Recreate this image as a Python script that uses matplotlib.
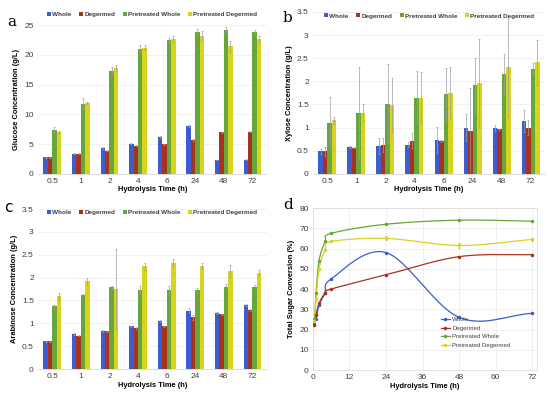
import numpy as np
import matplotlib
matplotlib.use('Agg')
import matplotlib.pyplot as plt

plt.rcParams['font.family'] = ['Liberation Sans', 'DejaVu Sans']

# data
times = ['0.5', '1', '2', '4', '6', '24', '48', '72']
hours = [0.5, 1, 2, 4, 6, 24, 48, 72]
series = ['Whole', 'Degermed', 'Pretreated Whole', 'Pretreated Degermed']

glu_whole = [2.8, 3.4, 4.3, 5.1, 6.2, 8.0, 2.3, 2.4]
glu_degermed = [2.8, 3.4, 3.9, 4.7, 5.0, 5.7, 7.0, 7.1]
glu_pwhole = [7.4, 11.8, 17.3, 21.0, 22.4, 23.8, 24.2, 23.9]
glu_pdegermed = [7.0, 11.9, 17.8, 21.2, 22.6, 23.2, 21.4, 22.6]
glu_err_whole = [0.05, 0.05, 0.2, 0.1, 0.1, 0.2, 0.05, 0.1]
glu_err_degermed = [0.05, 0.05, 0.1, 0.1, 0.1, 0.1, 0.1, 0.1]
glu_err_pwhole = [0.5, 0.9, 0.7, 0.6, 0.5, 0.6, 0.5, 0.2]
glu_err_pdegermed = [0.2, 0.2, 0.5, 0.4, 0.6, 0.8, 0.9, 0.5]

xyl_whole = [0.49, 0.58, 0.60, 0.63, 0.74, 1.00, 0.99, 1.14]
xyl_degermed = [0.49, 0.57, 0.63, 0.72, 0.71, 0.92, 0.96, 1.00]
xyl_pwhole = [1.11, 1.31, 1.52, 1.65, 1.72, 1.91, 2.16, 2.26]
xyl_pdegermed = [1.16, 1.32, 1.49, 1.64, 1.75, 1.96, 2.32, 2.41]
xyl_err_whole = [0.05, 0.02, 0.18, 0.05, 0.28, 0.30, 0.07, 0.23]
xyl_err_degermed = [0.10, 0.02, 0.15, 0.16, 0.02, 0.93, 0.02, 0.17]
xyl_err_pwhole = [0.55, 1.00, 0.85, 0.58, 0.57, 0.60, 0.43, 0.13]
xyl_err_pdegermed = [0.08, 0.18, 0.58, 0.57, 0.57, 0.96, 1.10, 0.48]

ara_whole = [0.61, 0.77, 0.84, 0.93, 1.05, 1.28, 1.23, 1.40]
ara_degermed = [0.61, 0.73, 0.83, 0.90, 0.93, 1.13, 1.20, 1.29]
ara_pwhole = [1.38, 1.63, 1.79, 1.73, 1.72, 1.72, 1.80, 1.80]
ara_pdegermed = [1.59, 1.92, 1.75, 2.25, 2.33, 2.26, 2.15, 2.11]
ara_err_whole = [0.01, 0.02, 0.02, 0.02, 0.03, 0.06, 0.02, 0.03]
ara_err_degermed = [0.01, 0.01, 0.01, 0.02, 0.02, 0.05, 0.01, 0.02]
ara_err_pwhole = [0.03, 0.02, 0.03, 0.08, 0.10, 0.05, 0.05, 0.03]
ara_err_pdegermed = [0.08, 0.08, 0.87, 0.08, 0.08, 0.07, 0.13, 0.06]

tsc_whole = [22.5, 25.0, 32.0, 38.0, 45.0, 58.0, 26.0, 28.0]
tsc_degermed = [22.0, 27.0, 33.0, 38.0, 40.0, 47.0, 56.0, 57.0]
tsc_pwhole = [25.0, 38.0, 54.0, 63.5, 67.5, 72.0, 74.0, 73.5]
tsc_pdegermed = [24.0, 35.0, 50.0, 59.5, 63.5, 65.0, 61.5, 64.5]
tsc_err_pdegermed = [0.5, 0.5, 0.5, 0.5, 0.5, 1.0, 1.0, 0.8]

colors = ['#3c5ccf', '#a8321c', '#67a63a', '#d6d41e']

fig = plt.figure(figsize=(5.5, 3.97), dpi=100)


def bar_panel(rect, vals, errs, ymax, ystep, ylabel, letter, letter_xy, letter_font, legend_y):
    ax = fig.add_axes(rect)
    x = np.arange(len(times))
    w = 0.155
    for i in range(4):
        ax.bar(x + (i - 1.5) * w, vals[i], w, color=colors[i], zorder=2,
               yerr=errs[i], error_kw=dict(ecolor='#a0a0a0', elinewidth=0.5, capsize=1, capthick=0.5))
    ax.set_ylim(0, ymax)
    ax.set_yticks(np.arange(0, ymax + ystep / 2, ystep))
    ax.set_yticklabels(['%g' % v for v in np.arange(0, ymax + ystep / 2, ystep)])
    ax.set_xlim(-0.5, len(times) - 0.5)
    ax.set_xticks(x)
    ax.set_xticklabels(times)
    ax.tick_params(labelsize=6, length=0, pad=3, colors='#404040')
    ax.grid(axis='y', color='#ececec', linewidth=0.5, zorder=0)
    for s in ['top', 'right', 'left']:
        ax.spines[s].set_visible(False)
    ax.spines['bottom'].set_color('#d0d0d0')
    ax.spines['bottom'].set_linewidth(0.5)
    ax.set_xlabel('Hydrolysis Time (h)', fontsize=5.4, fontweight='bold', labelpad=1)
    ax.set_ylabel(ylabel, fontsize=5.4, fontweight='bold', labelpad=3)
    leg = ax.legend(series, loc='center', bbox_to_anchor=(0.5, legend_y), ncol=4, frameon=False,
                    prop=dict(size=4.6, weight='bold'), handlelength=0.6, handleheight=0.6,
                    handletextpad=0.2, columnspacing=1.2, borderaxespad=0)
    for t in leg.get_texts():
        t.set_color('#404040')
    fig.text(letter_xy[0], letter_xy[1], letter, fontsize=11, family=letter_font, ha='center', va='center')
    return ax


bar_panel([0.069, 0.562, 0.416, 0.375],
          [glu_whole, glu_degermed, glu_pwhole, glu_pdegermed],
          [glu_err_whole, glu_err_degermed, glu_err_pwhole, glu_err_pdegermed],
          25, 5, 'Glucose Concentration (g/L)', 'a', (0.022, 0.945), 'DejaVu Serif', 1.07)

bar_panel([0.569, 0.562, 0.422, 0.408],
          [xyl_whole, xyl_degermed, xyl_pwhole, xyl_pdegermed],
          [xyl_err_whole, xyl_err_degermed, xyl_err_pwhole, xyl_err_pdegermed],
          3.5, 0.5, 'Xylose Concentration (g/L)', 'b', (0.522, 0.955), 'DejaVu Serif', 0.975)

bar_panel([0.069, 0.0705, 0.416, 0.403],
          [ara_whole, ara_degermed, ara_pwhole, ara_pdegermed],
          [ara_err_whole, ara_err_degermed, ara_err_pwhole, ara_err_pdegermed],
          3.5, 0.5, 'Arabinose Concentration (g/L)', 'c', (0.016, 0.478), 'DejaVu Sans', 0.98)


def smooth(xs, ys, n=30):
    # Catmull-Rom style smoothing like the spreadsheet's smoothed line
    xs = np.asarray(xs, float)
    ys = np.asarray(ys, float)
    px = np.concatenate([[2 * xs[0] - xs[1]], xs, [2 * xs[-1] - xs[-2]]])
    py = np.concatenate([[2 * ys[0] - ys[1]], ys, [2 * ys[-1] - ys[-2]]])
    outx, outy = [], []
    for i in range(1, len(px) - 2):
        t = np.linspace(0, 1, n)
        p0, p1, p2, p3 = px[i - 1], px[i], px[i + 1], px[i + 2]
        q0, q1, q2, q3 = py[i - 1], py[i], py[i + 1], py[i + 2]
        b1 = p1 + (p2 - p0) / 6
        b2 = p2 - (p3 - p1) / 6
        c1 = q1 + (q2 - q0) / 6
        c2 = q2 - (q3 - q1) / 6
        outx.extend((1 - t) ** 3 * p1 + 3 * (1 - t) ** 2 * t * b1 + 3 * (1 - t) * t ** 2 * b2 + t ** 3 * p2)
        outy.extend((1 - t) ** 3 * q1 + 3 * (1 - t) ** 2 * t * c1 + 3 * (1 - t) * t ** 2 * c2 + t ** 3 * q2)
    return outx, outy


ax = fig.add_axes([0.569, 0.068, 0.407, 0.408])
for vals, c, name in zip([tsc_whole, tsc_degermed, tsc_pwhole, tsc_pdegermed], colors, series):
    sx, sy = smooth(hours, vals)
    ax.plot(sx, sy, color=c, linewidth=0.9, zorder=3)
    ax.plot(hours, vals, 'o', color=c, markersize=1.5, zorder=4)
    ax.plot([], [], '-o', color=c, markersize=1.5, linewidth=0.9, label=name)
ax.errorbar(hours, tsc_pdegermed, yerr=tsc_err_pdegermed, fmt='none', ecolor='#a0a0a0',
            elinewidth=0.5, capsize=1, capthick=0.5, zorder=2)
ax.set_xlim(0, 73.5)
ax.set_ylim(0, 80)
ax.set_xticks(range(0, 73, 12))
ax.set_yticks(range(0, 81, 10))
ax.tick_params(labelsize=6, length=0, pad=3, colors='#404040')
ax.grid(color='#ececec', linewidth=0.5, zorder=0)
for s in ax.spines.values():
    s.set_color('#d8d8d8')
    s.set_linewidth(0.5)
ax.set_xlabel('Hydrolysis Time (h)', fontsize=5.4, fontweight='bold', labelpad=1)
ax.set_ylabel('Total Sugar Conversion (%)', fontsize=5.4, fontweight='bold', labelpad=3)
leg = ax.legend(loc='lower left', bbox_to_anchor=(0.56, 0.12), frameon=False, prop=dict(size=4.3),
                handlelength=1.6, handletextpad=0.3, labelspacing=0.6, borderaxespad=0)
for t in leg.get_texts():
    t.set_color('#404040')
fig.text(0.524, 0.483, 'd', fontsize=11, family='DejaVu Serif', ha='center', va='center')

plt.savefig('out.png', dpi=100)
